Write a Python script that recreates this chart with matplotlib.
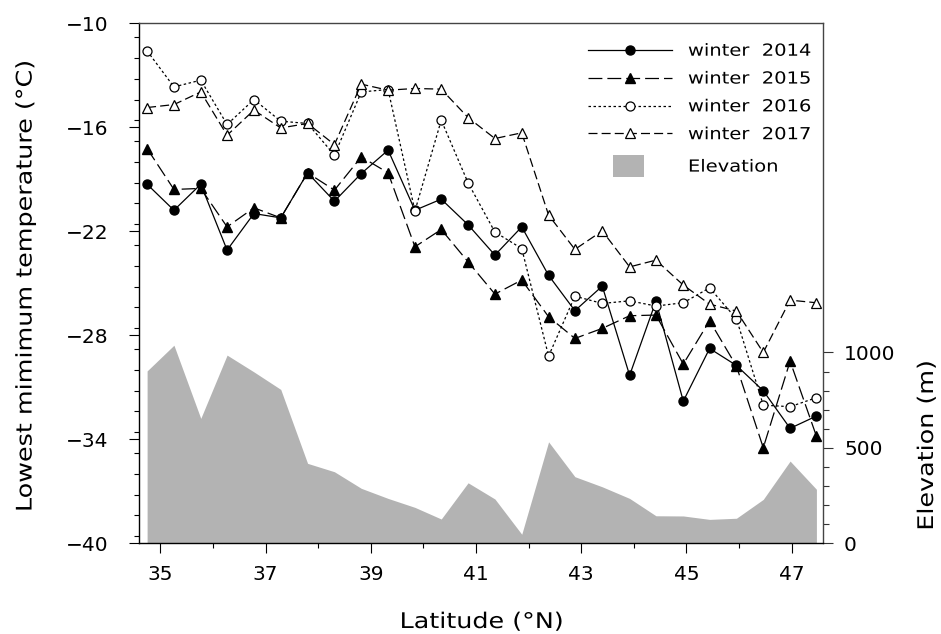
import matplotlib
matplotlib.use('Agg')
import matplotlib.pyplot as plt
from matplotlib.patches import Patch
from matplotlib.ticker import FixedLocator, MultipleLocator
from matplotlib.patheffects import AbstractPathEffect
from matplotlib.transforms import Affine2D

# ---------------- data ----------------
lat = [34.75, 35.26, 35.77, 36.27, 36.78, 37.29, 37.80, 38.31, 38.82, 39.33,
       39.84, 40.34, 40.85, 41.36, 41.87, 42.38, 42.88, 43.40, 43.92, 44.42,
       44.94, 45.44, 45.95, 46.46, 46.97, 47.47]

w2014 = [-19.29, -20.79, -19.29, -23.09, -20.98, -21.23, -18.63, -20.27, -18.67, -17.32,
         -20.79, -20.15, -21.63, -23.38, -21.75, -24.55, -26.59, -25.17, -30.32, -26.04,
         -31.81, -28.77, -29.75, -31.21, -33.38, -32.67]
w2015 = [-17.23, -19.59, -19.53, -21.75, -20.65, -21.23, -18.63, -19.63, -17.71, -18.63,
         -22.90, -21.90, -23.77, -25.63, -24.82, -26.94, -28.19, -27.61, -26.88, -26.84,
         -29.67, -27.17, -29.79, -34.50, -29.50, -33.83]
w2016 = [-11.59, -13.67, -13.28, -15.84, -14.40, -15.65, -15.78, -17.61, -13.96, -13.82,
         -20.83, -15.59, -19.21, -22.05, -23.00, -29.21, -25.75, -26.17, -26.02, -26.32,
         -26.13, -25.27, -27.06, -32.04, -32.13, -31.61]
w2017 = [-14.86, -14.69, -13.96, -16.46, -15.01, -16.04, -15.78, -17.00, -13.51, -13.86,
         -13.76, -13.80, -15.44, -16.65, -16.32, -21.07, -23.05, -21.98, -24.06, -23.67,
         -25.11, -26.21, -26.61, -29.00, -25.98, -26.13]
elevation = [903, 1038, 654, 986, 898, 806, 418, 374, 287, 234,
             187, 126, 316, 231, 46, 531, 348, 295, 234, 143,
             142, 124, 130, 229, 430, 282]

series_labels = ['winter  2014', 'winter  2015', 'winter  2016', 'winter  2017']
elev_label = 'Elevation'
x_ticks = [35, 37, 39, 41, 43, 45, 47]
y_ticks = [-40, -34, -28, -22, -16, -10]
elev_ticks = [0, 500, 1000]
elev_minor = list(range(0, 1001, 100))


# ------------- letter-width helper (text stays real text) -------------
class Stretch(AbstractPathEffect):
    def __init__(self, sx=1.15, anchor='center'):
        super().__init__()
        self._sx = sx
        self._anchor = anchor

    def draw_path(self, renderer, gc, tpath, affine, rgbFace=None):
        v = tpath.vertices
        if self._anchor == 'left' or len(v) == 0:
            cx = 0.0
        else:
            cx = 0.5 * (v[:, 0].min() + v[:, 0].max())
        t = Affine2D().translate(-cx, 0).scale(self._sx, 1).translate(cx, 0)
        renderer.draw_path(gc, tpath, t + affine, rgbFace)


plt.rcParams['font.family'] = ['DejaVu Sans']

fig = plt.figure(figsize=(9.41, 6.34), dpi=100)
ax = fig.add_axes([0.1480, 0.1435, 0.8751 - 0.1480, 0.9632 - 0.1435])
ax2 = ax.twinx()
ax.set_zorder(2)
ax2.set_zorder(1)
ax.patch.set_visible(False)

# elevation fill
ax2.fill_between(lat, 0, elevation, color='#b3b3b3', linewidth=0)
ax2.set_ylim(0, 2727)

lw = 0.9
l1, = ax.plot(lat, w2014, color='black', lw=lw, ls='-', marker='o', ms=6.5,
              mfc='black', mec='black', label=series_labels[0])
l2, = ax.plot(lat, w2015, color='black', lw=lw, dashes=(11.1, 4.0), marker='^', ms=7,
              mfc='black', mec='black', label=series_labels[1])
l3, = ax.plot(lat, w2016, color='black', lw=lw, dashes=(2.0, 2.0), marker='o', ms=6.5,
              mfc='white', mec='black', mew=0.9, label=series_labels[2])
l4, = ax.plot(lat, w2017, color='black', lw=lw, dashes=(7.2, 3.3), marker='^', ms=7,
              mfc='white', mec='black', mew=0.9, label=series_labels[3])

ax.set_xlim(34.601, 47.604)
ax.set_ylim(-40, -10)

ax.xaxis.set_major_locator(FixedLocator(x_ticks))
ax.xaxis.set_minor_locator(MultipleLocator(1))
ax.yaxis.set_major_locator(FixedLocator(y_ticks))
ax.yaxis.set_minor_locator(MultipleLocator(1.2))
ax2.yaxis.set_major_locator(FixedLocator(elev_ticks))
ax2.yaxis.set_minor_locator(FixedLocator(elev_minor))

tick_col = '#333333'
ax.tick_params(axis='both', which='major', direction='out', length=7.2, width=0.8,
               labelsize=14.5, color='black')
ax.tick_params(axis='both', which='minor', direction='out', length=3.6, width=0.8,
               color='black')
ax.tick_params(axis='y', which='major', pad=15)
ax.tick_params(axis='x', which='major', pad=8.9)
ax2.tick_params(axis='y', which='major', direction='out', length=7.2, width=0.8,
                labelsize=14.5, pad=7.6, color=tick_col)
ax2.tick_params(axis='y', which='minor', direction='out', length=4.5, width=0.8,
                color=tick_col)

for s in ax2.spines.values():
    s.set_visible(False)
for name in ['left', 'bottom']:
    ax.spines[name].set_linewidth(1.0)
    ax.spines[name].set_color('black')
for name in ['top', 'right']:
    ax.spines[name].set_linewidth(1.0)
    ax.spines[name].set_color('#444444')

# axis labels
xl = ax.set_xlabel('Latitude (°N)', fontsize=15.5)
yl = ax.set_ylabel('Lowest mimimum temperature (°C)', fontsize=15.5)
yl2 = ax2.set_ylabel('Elevation (m)', fontsize=15.5)
ax.xaxis.set_label_coords(0.5, -0.1327)
ax.yaxis.set_label_coords(-0.1516, 0.495)
ax2.yaxis.set_label_coords(1.1367, 0.1875)
for t in (xl, yl, yl2):
    t.set_path_effects([Stretch(1.18, 'center')])

# legends
leg1 = ax.legend(handles=[l1, l2, l3, l4], loc='upper left',
                 bbox_to_anchor=(0.6558, 0.9646), bbox_transform=ax.transAxes,
                 frameon=False, borderpad=0, borderaxespad=0, handlelength=5.04,
                 handletextpad=0.96, labelspacing=0.59, fontsize=12, numpoints=1)
for t in leg1.get_texts():
    t.set_path_effects([Stretch(1.17, 'left')])
ax.add_artist(leg1)

leg2 = ax.legend(handles=[Patch(facecolor='#b3b3b3', edgecolor='none', label=elev_label)],
                 loc='upper left', bbox_to_anchor=(0.6928, 0.746),
                 bbox_transform=ax.transAxes, frameon=False, borderpad=0,
                 borderaxespad=0, handlelength=1.86, handleheight=1.62,
                 handletextpad=2.62, fontsize=12)
for t in leg2.get_texts():
    t.set_path_effects([Stretch(1.17, 'left')])

fig.savefig('out.png', dpi=100)
